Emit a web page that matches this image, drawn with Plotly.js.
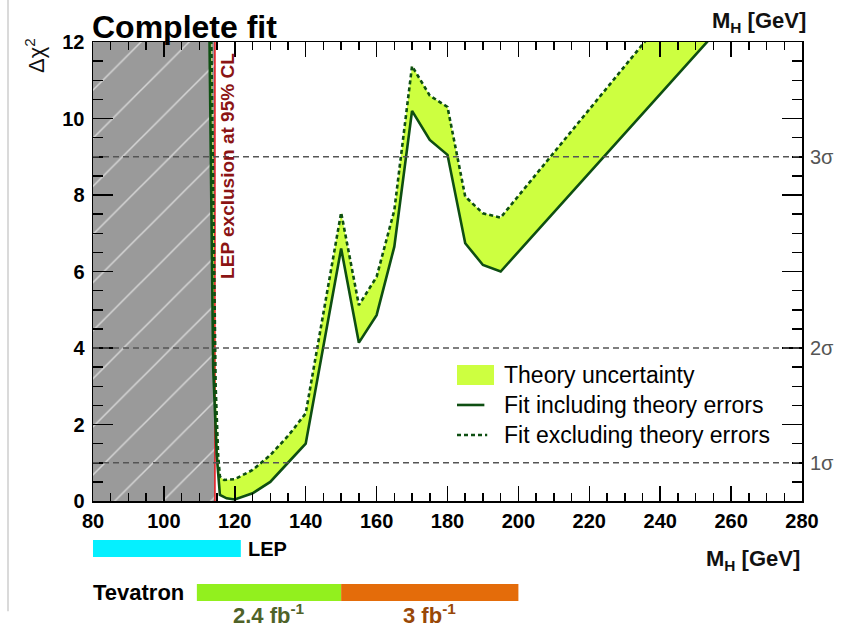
<!DOCTYPE html>
<html>
<head>
<meta charset="utf-8">
<script src="https://cdn.plot.ly/plotly-3.0.1.min.js"></script>
<style>
html,body{margin:0;padding:0;background:#fff;}
#chart{width:846px;height:630px;}
</style>
</head>
<body>
<div id="chart"></div>
<script>
// ---- data ----
// Fit including theory errors (solid line)
var mH_incl   = [112.8, 113.9, 114.9, 115.2, 115.8, 117.7, 120, 125, 130, 135, 140, 150, 155, 160, 165, 170, 175, 180, 185, 190, 195, 260];
var chi2_incl = [12.6, 3.5, 1.2, 0.8, 0.16, 0.07, 0.04, 0.2, 0.5, 1.0, 1.5, 6.6, 4.14, 4.86, 6.65, 10.2, 9.44, 9.05, 6.74, 6.17, 6.0, 12.7];
// Fit excluding theory errors (dashed line)
var mH_excl   = [113.3, 114.6, 115.3, 115.8, 117, 120, 125, 130, 135, 140, 150, 155, 160, 165, 170, 173, 175, 180, 185, 190, 195, 240];
var chi2_excl = [12.6, 3.0, 1.2, 0.64, 0.55, 0.57, 0.81, 1.2, 1.7, 2.29, 7.54, 5.12, 5.86, 7.6, 11.37, 10.92, 10.6, 10.3, 7.96, 7.52, 7.41, 12.5];
// LEP exclusion limit and axis extents
var lepLimit = 114.4;
var mHRange = [80, 280];
var chi2Range = [0, 12];
// sigma reference levels
var sigmaChi2 = [1, 4, 9];
var sigmaLabels = ['1σ', '2σ', '3σ'];
// experiment coverage bars (GeV)
var lepBar = [80, 121.7];
var tevatronBars = [[109.3, 150], [150, 200]];
var tevatronLabels = ['2.4 fb<sup>-1</sup>', '3 fb<sup>-1</sup>'];
var tevatronColors = ['#92f01e', '#e46c0a'];
var tevatronTextColors = ['#4f6228', '#984807'];

// ---- style ----
var lineGreen = '#0e4f12';
var bandColor = '#cdff40';
var sans = 'Liberation Sans, Arial, sans-serif';

// band polygon from the two curves
var bandX = mH_incl.concat(mH_excl.slice().reverse());
var bandY = chi2_incl.concat(chi2_excl.slice().reverse());

var traces = [
  { // LEP excluded region (hatched)
    x: [mHRange[0], lepLimit, lepLimit, mHRange[0], mHRange[0]],
    y: [chi2Range[0], chi2Range[0], chi2Range[1], chi2Range[1], chi2Range[0]],
    mode: 'lines', fill: 'toself', fillcolor: '#9a9a9a',
    fillpattern: {shape: '/', bgcolor: '#9a9a9a', fgcolor: '#d6d6d6', size: 34, solidity: 0.045},
    line: {width: 0}, hoverinfo: 'skip', showlegend: false
  },
  { // theory uncertainty band
    x: bandX, y: bandY, mode: 'lines', fill: 'toself', fillcolor: bandColor,
    line: {width: 0}, hoverinfo: 'skip', showlegend: false
  },
  { // LEP limit line
    x: [lepLimit, lepLimit], y: chi2Range, mode: 'lines',
    line: {color: '#e8141c', width: 1.5}, showlegend: false
  },
  { // fit excluding theory errors
    x: mH_excl, y: chi2_excl, mode: 'lines',
    line: {color: lineGreen, width: 2.6, dash: '4px,3px'}, showlegend: false
  },
  { // fit including theory errors
    x: mH_incl, y: chi2_incl, mode: 'lines',
    line: {color: lineGreen, width: 2.6}, showlegend: false
  }
];

var shapes = [];
sigmaChi2.forEach(function (v) {
  shapes.push({type: 'line', xref: 'paper', x0: 0, x1: 1, yref: 'y', y0: v, y1: v,
    line: {color: '#555', width: 1.4, dash: '6px,4px'}, layer: 'above'});
});
// LEP coverage bar
shapes.push({type: 'rect', xref: 'x', x0: lepBar[0], x1: lepBar[1], yref: 'paper', y0: -0.122, y1: -0.085,
  fillcolor: '#05f0ff', line: {width: 0}});
tevatronBars.forEach(function (b, i) {
  shapes.push({type: 'rect', xref: 'x', x0: b[0], x1: b[1], yref: 'paper', y0: -0.218, y1: -0.181,
    fillcolor: tevatronColors[i], line: {width: 0}});
});
// manual legend symbols
shapes.push({type: 'rect', xref: 'paper', yref: 'paper', x0: 0.5134, x1: 0.5656, y0: 0.2527, y1: 0.2963,
  fillcolor: bandColor, line: {width: 0}});
shapes.push({type: 'line', xref: 'paper', yref: 'paper', x0: 0.5134, x1: 0.552, y0: 0.2092, y1: 0.2092,
  line: {color: lineGreen, width: 2.6}});
shapes.push({type: 'line', xref: 'paper', yref: 'paper', x0: 0.5134, x1: 0.556, y0: 0.1438, y1: 0.1438,
  line: {color: lineGreen, width: 2.6, dash: '4px,3px'}});
// slide border line on the left
shapes.push({type: 'line', xref: 'paper', yref: 'paper', x0: -0.1199, x1: -0.1199, y0: -0.24, y1: 1.1,
  line: {color: '#dadada', width: 2}});

var annotations = [
  {text: 'Complete fit', xref: 'paper', yref: 'paper', x: -0.004, y: 1.0327, xanchor: 'left', yanchor: 'middle',
    showarrow: false, font: {family: sans, size: 32, color: '#000', weight: 'bold'}},
  {text: 'M<sub>H</sub> [GeV]', xref: 'paper', yref: 'paper', x: 1.0085, y: 1.0436, xanchor: 'right', yanchor: 'middle',
    showarrow: false, font: {family: sans, size: 22, color: '#111', weight: 'bold'}},
  {text: 'M<sub>H</sub> [GeV]', xref: 'paper', yref: 'paper', x: 1.0, y: -0.1285, xanchor: 'right', yanchor: 'middle',
    showarrow: false, font: {family: sans, size: 22, color: '#111', weight: 'bold'}},
  {text: 'Δχ<sup>2</sup>', xref: 'paper', yref: 'paper', x: -0.0818, y: 0.9695, xanchor: 'center', yanchor: 'middle',
    textangle: -90, showarrow: false, font: {family: sans, size: 22, color: '#111'}},
  {text: 'LEP exclusion at 95% CL', xref: 'x', yref: 'y', x: lepLimit, y: 8.76, xshift: 13,
    xanchor: 'center', yanchor: 'middle', textangle: -90, showarrow: false,
    font: {family: sans, size: 19, color: '#8b1414', weight: 'bold'}},
  {text: 'Theory uncertainty', xref: 'paper', yref: 'paper', x: 0.5769, y: 0.2745, xanchor: 'left', yanchor: 'middle',
    showarrow: false, font: {family: sans, size: 23, color: '#000'}},
  {text: 'Fit including theory errors', xref: 'paper', yref: 'paper', x: 0.5769, y: 0.2092, xanchor: 'left', yanchor: 'middle',
    showarrow: false, font: {family: sans, size: 23, color: '#000'}},
  {text: 'Fit excluding theory errors', xref: 'paper', yref: 'paper', x: 0.5769, y: 0.1438, xanchor: 'left', yanchor: 'middle',
    showarrow: false, font: {family: sans, size: 23, color: '#000'}},
  {text: 'LEP', xref: 'paper', yref: 'paper', x: (246 - 93) / 709, y: -0.1045, xanchor: 'left', yanchor: 'middle',
    showarrow: false, font: {family: sans, size: 20, color: '#000', weight: 'bold'}},
  {text: 'Tevatron', xref: 'paper', yref: 'paper', x: (91 - 93) / 709, y: -0.1995, xanchor: 'left', yanchor: 'middle',
    showarrow: false, font: {family: sans, size: 22, color: '#000', weight: 'bold'}}
];
sigmaChi2.forEach(function (v, i) {
  annotations.push({text: sigmaLabels[i], xref: 'paper', yref: 'y', x: 1.0085, y: v, xanchor: 'left', yanchor: 'middle',
    showarrow: false, font: {family: sans, size: 20, color: '#555'}});
});
tevatronBars.forEach(function (b, i) {
  annotations.push({text: tevatronLabels[i], xref: 'x', yref: 'paper', x: (b[0] + b[1]) / 2, y: -0.2462,
    xanchor: 'center', yanchor: 'middle', showarrow: false,
    font: {family: sans, size: 22, color: tevatronTextColors[i], weight: 'bold'}});
});

var axisCommon = {
  showgrid: false, zeroline: false, showline: true, linecolor: '#000', linewidth: 1.5,
  mirror: 'allticks', ticks: 'inside', tickcolor: '#000', tickwidth: 1.5,
  tickfont: {family: sans, size: 20, color: '#000', weight: 'bold'}
};

var layout = {
  width: 846, height: 630,
  margin: {l: 93, r: 44, t: 42, b: 129},
  paper_bgcolor: '#fff', plot_bgcolor: '#fff',
  showlegend: false,
  xaxis: Object.assign({}, axisCommon, {
    range: mHRange, tick0: 80, dtick: 20, ticklen: 15, ticklabelstandoff: 1,
    minor: {dtick: 5, ticklen: 8, tickwidth: 1.5, tickcolor: '#000', ticks: 'inside'}
  }),
  yaxis: Object.assign({}, axisCommon, {
    range: chi2Range, tick0: 0, dtick: 2, ticklen: 20, ticklabelstandoff: 3,
    minor: {dtick: 0.5, ticklen: 10, tickwidth: 1.5, tickcolor: '#000', ticks: 'inside'}
  }),
  shapes: shapes,
  annotations: annotations
};

Plotly.newPlot('chart', traces, layout, {staticPlot: true, displayModeBar: false});
</script>
</body>
</html>
